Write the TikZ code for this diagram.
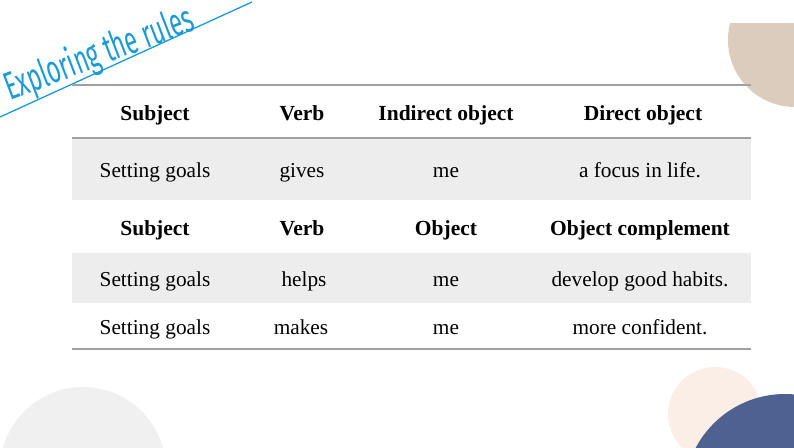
\documentclass[tikz,border=0pt]{standalone}
\usepackage{fontspec}
\setmainfont{Liberation Serif}
\newfontfamily\titlefont{Fira Sans}[FakeStretch=0.6]
\definecolor{tblue}{HTML}{1B9AD6}
\definecolor{beige}{HTML}{DCCCBD}
\definecolor{peach}{HTML}{FBEEE6}
\definecolor{navy}{HTML}{4E6190}
\definecolor{lgray}{HTML}{F0F0F0}
\definecolor{band}{HTML}{EDEDED}
\definecolor{rule}{HTML}{A0A0A0}
\tikzset{
  hd/.style={font=\fontsize{21.5}{24}\selectfont\bfseries, anchor=base, inner sep=0pt},
  cell/.style={font=\fontsize{21.3}{24}\selectfont, anchor=base, inner sep=0pt},
  tline/.style={draw=rule, line width=1.2pt},
}
\begin{document}
\begin{tikzpicture}[x=1pt,y=-1pt]
\useasboundingbox (0,0) rectangle (794,447);
\clip (0,0) rectangle (794,447);
\fill[white] (0,0) rectangle (794,447);
% decorative circles
\begin{scope}
\clip (700,23) rectangle (794,200);
\fill[beige] (795,40) circle (67);
\end{scope}
\fill[lgray] (83,470) circle (83);
\fill[peach] (715,414) circle (47);
\fill[navy] (785,495) circle (101);
% title
\draw[tblue, line width=1.3pt] (0,117) coordinate (ta) -- (252,2) coordinate (tb);
\node[font=\titlefont\fontsize{39}{44}\selectfont, text=tblue, rotate=21, anchor=base west, inner sep=0pt] (title) at (10,101) {Exploring the rules};
% table bands and rules
\fill[band] (72,138) rectangle (751,200);
\fill[band] (72,253) rectangle (751,303);
\coordinate (l1) at (72,85);  \coordinate (r1) at (751,85);
\coordinate (l2) at (72,138); \coordinate (r2) at (751,138);
\coordinate (l3) at (72,349); \coordinate (r3) at (751,349);
\draw[tline] (l1) -- (r1);
\draw[tline] (l2) -- (r2);
\draw[tline] (l3) -- (r3);
% header 1
\node[hd] (h11) at (155,120) {Subject};
\node[hd] (h12) at (302,120) {Verb};
\node[hd] (h13) at (446,120) {Indirect object};
\node[hd] (h14) at (643,120) {Direct object};
% row 1
\node[cell] (c11) at (155,177) {Setting goals};
\node[cell] (c12) at (302,177) {gives};
\node[cell] (c13) at (446,177) {me};
\node[cell] (c14) at (640,177) {a focus in life.};
% header 2
\node[hd] (h21) at (155,235) {Subject};
\node[hd] (h22) at (302,235) {Verb};
\node[hd] (h23) at (446,235) {Object};
\node[hd] (h24) at (640,235) {Object complement};
% row 2
\node[cell] (c21) at (155,286) {Setting goals};
\node[cell] (c22) at (304,286) {helps};
\node[cell] (c23) at (446,286) {me};
\node[cell] (c24) at (640,286) {develop good habits.};
% row 3
\node[cell] (c31) at (155,334) {Setting goals};
\node[cell] (c32) at (301,334) {makes};
\node[cell] (c33) at (446,334) {me};
\node[cell] (c34) at (640,334) {more confident.};
\end{tikzpicture}
\end{document}
